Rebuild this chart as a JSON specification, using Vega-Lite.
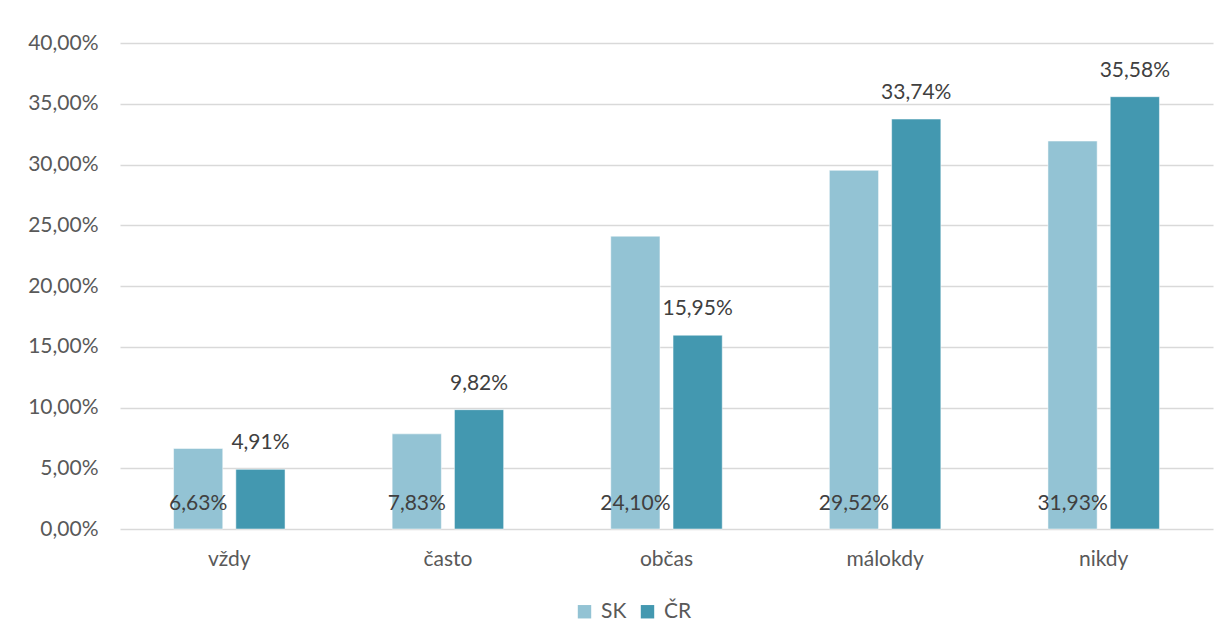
{
  "$schema": "https://vega.github.io/schema/vega-lite/v6.json",
  "width": 1093,
  "height": 486,
  "autosize": {"type": "none"},
  "padding": {"left": 120, "top": 43, "right": 13, "bottom": 115},
  "background": "white",
  "config": {
    "locale": {"number": {"decimal": ",", "thousands": " ", "grouping": [3], "currency": ["", " €"]}},
    "font": "Lato",
    "view": {"stroke": null}
  },
  "data": {
    "values": [
      {"kat": "vždy", "krajina": "SK", "hodnota": 0.0663},
      {"kat": "vždy", "krajina": "ČR", "hodnota": 0.0491},
      {"kat": "často", "krajina": "SK", "hodnota": 0.0783},
      {"kat": "často", "krajina": "ČR", "hodnota": 0.0982},
      {"kat": "občas", "krajina": "SK", "hodnota": 0.2410},
      {"kat": "občas", "krajina": "ČR", "hodnota": 0.1595},
      {"kat": "málokdy", "krajina": "SK", "hodnota": 0.2952},
      {"kat": "málokdy", "krajina": "ČR", "hodnota": 0.3374},
      {"kat": "nikdy", "krajina": "SK", "hodnota": 0.3193},
      {"kat": "nikdy", "krajina": "ČR", "hodnota": 0.3558}
    ]
  },
  "encoding": {
    "x": {
      "field": "kat", "type": "nominal",
      "sort": ["vždy", "často", "občas", "málokdy", "nikdy"],
      "scale": {"paddingInner": 0.49, "paddingOuter": 0.245},
      "axis": {"title": null, "labelAngle": 0, "labelFontSize": 21, "labelColor": "#595959", "labelPadding": 19, "ticks": false, "domain": false}
    },
    "xOffset": {
      "field": "krajina", "type": "nominal", "sort": ["SK", "ČR"],
      "scale": {"paddingInner": 0.21, "paddingOuter": 0}
    }
  },
  "layer": [
    {
      "mark": {"type": "bar", "stroke": "white", "strokeWidth": 0.5},
      "encoding": {
        "y": {
          "field": "hodnota", "type": "quantitative",
          "scale": {"domain": [0, 0.4], "nice": false},
          "axis": {
            "title": null, "format": ".2%", "values": [0, 0.05, 0.1, 0.15, 0.2, 0.25, 0.3, 0.35, 0.4],
            "labelFontSize": 21, "labelColor": "#595959", "labelPadding": 22,
            "ticks": false, "domain": false, "grid": true, "gridColor": "#d9d9d9", "gridWidth": 1.5
          }
        },
        "color": {
          "field": "krajina", "type": "nominal", "sort": ["SK", "ČR"],
          "scale": {"domain": ["SK", "ČR"], "range": ["#93c3d4", "#4398b0"]},
          "legend": {
            "title": null, "orient": "none", "direction": "horizontal",
            "legendX": 454, "legendY": 558,
            "symbolType": "square", "symbolSize": 180, "symbolStrokeWidth": 0,
            "labelFontSize": 21, "labelColor": "#595959", "columnPadding": 10, "labelOffset": 6
          }
        }
      }
    },
    {
      "transform": [{"filter": "datum.krajina === 'SK'"}],
      "mark": {"type": "text", "fontSize": 21, "color": "#404040", "baseline": "middle", "dy": -25},
      "encoding": {
        "y": {"datum": 0, "type": "quantitative"},
        "text": {"field": "hodnota", "type": "quantitative", "format": ".2%"}
      }
    },
    {
      "transform": [{"filter": "datum.krajina === 'ČR'"}],
      "mark": {"type": "text", "fontSize": 21, "color": "#404040", "baseline": "middle", "dy": -26},
      "encoding": {
        "y": {"field": "hodnota", "type": "quantitative"},
        "text": {"field": "hodnota", "type": "quantitative", "format": ".2%"}
      }
    }
  ]
}
